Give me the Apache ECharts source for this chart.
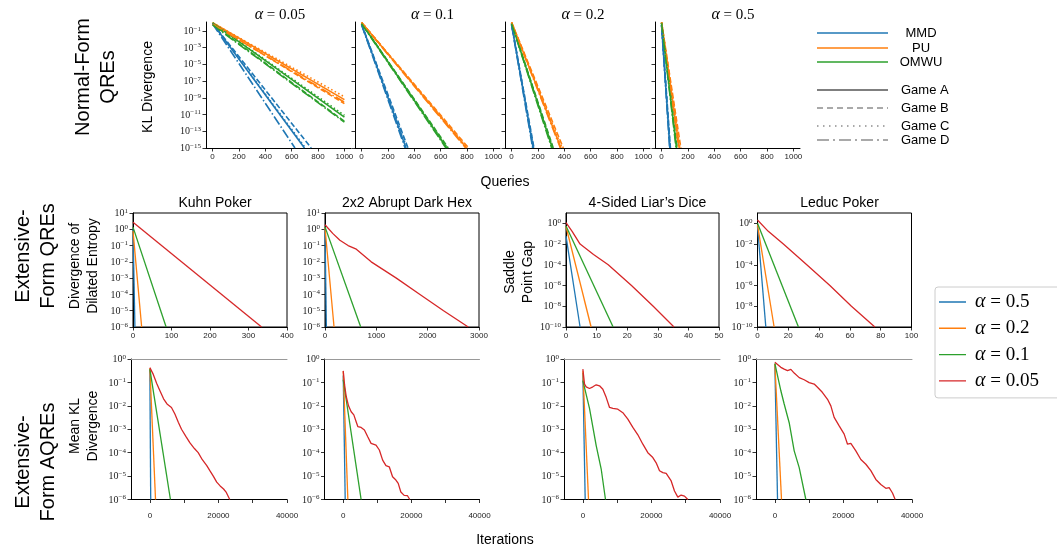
<!DOCTYPE html>
<html><head><meta charset="utf-8">
<script src="https://cdn.jsdelivr.net/npm/echarts@6/dist/echarts.min.js"></script>
<style>html,body{margin:0;padding:0;background:#fff}#chart{width:1057px;height:550px}</style>
</head><body><div id="chart"></div>
<script>
// ================= DATA =================
// --- Normal-form QREs (top row) ---
const alphaTitles = ['0.05', '0.1', '0.2', '0.5'];
const methodNames = ['MMD', 'PU', 'OMWU'];
const gameNames = ['Game A', 'Game B', 'Game C', 'Game D'];
const queryTicks = [0, 200, 400, 600, 800, 1000];
const nfExpTicks = [-15, -13, -11, -9, -7, -5, -3, -1];
// each array: [Game A, Game B, Game C, Game D]; line = [[queries, KL divergence], ...]
const nf005_MMD  = [[[0, 0.8], [697, 1e-15]], [[0, 0.8], [748, 1e-15]], [[0, 0.8], [705, 1e-15]], [[0, 0.7], [625, 1e-15]]];
const nf005_PU   = [[[0, 0.9], [1000, 6e-10]], [[0, 0.7], [1000, 2e-10]], [[0, 0.9], [1000, 1.3e-9]], [[0, 0.6], [1000, 3e-10]]];
const nf005_OMWU = [[[0, 0.9], [1000, 5e-12]], [[0, 0.6], [1000, 1.5e-12]], [[0, 0.9], [1000, 8e-12]], [[0, 0.5], [1000, 1.2e-12]]];
const nf01_MMD   = [[[0, 0.6], [337, 1e-15]], [[0, 0.6], [352, 1e-15]], [[0, 0.6], [344, 1e-15]], [[0, 0.5], [330, 1e-15]]];
const nf01_PU    = [[[0, 1.0], [797, 1e-15]], [[0, 1.0], [812, 1e-15]], [[0, 1.0], [803, 1e-15]], [[0, 0.9], [790, 1e-15]]];
const nf01_OMWU  = [[[0, 0.8], [646, 1e-15]], [[0, 0.8], [657, 1e-15]], [[0, 0.8], [651, 1e-15]], [[0, 0.7], [640, 1e-15]]];
const nf02_MMD   = [[[0, 0.6], [164, 1e-15]], [[0, 0.6], [170, 1e-15]], [[0, 0.6], [167, 1e-15]], [[0, 0.5], [160, 1e-15]]];
const nf02_PU    = [[[0, 1.0], [375, 1e-15]], [[0, 1.0], [392, 1e-15]], [[0, 1.0], [383, 1e-15]], [[0, 0.9], [370, 1e-15]]];
const nf02_OMWU  = [[[0, 0.8], [309, 1e-15]], [[0, 0.8], [316, 1e-15]], [[0, 0.8], [312, 1e-15]], [[0, 0.7], [304, 1e-15]]];
const nf05_MMD   = [[[0, 0.5], [63, 1e-15]], [[0, 0.5], [67, 1e-15]], [[0, 0.5], [65, 1e-15]], [[0, 0.4], [61, 1e-15]]];
const nf05_PU    = [[[0, 1.0], [134, 1e-15]], [[0, 1.0], [146, 1e-15]], [[0, 1.0], [140, 1e-15]], [[0, 0.9], [130, 1e-15]]];
const nf05_OMWU  = [[[0, 0.9], [113, 1e-15]], [[0, 0.9], [119, 1e-15]], [[0, 0.9], [116, 1e-15]], [[0, 0.8], [110, 1e-15]]];

// --- Extensive-form QREs (middle row); order: α=0.5, 0.2, 0.1, 0.05 ---
const alphaNames = ['α = 0.5', 'α = 0.2', 'α = 0.1', 'α = 0.05'];
const efTitles = ['Kuhn Poker', '2x2 Abrupt Dark Hex', '4-Sided Liar’s Dice', 'Leduc Poker'];
const kuhnQRE = [
  [[0, 1.0], [5, 1e-6]],
  [[0, 0.8], [22.5, 1e-6]],
  [[0, 1.35], [86, 1e-6]],
  [[0, 2.75], [334, 1e-6]]
];
const hexQRE = [
  [[0, 1.0], [27, 1e-6]],
  [[0, 1.2], [176, 1e-6]],
  [[0, 1.4], [696, 1e-6]],
  [[0, 1.9], [150, 0.56], [290, 0.21], [450, 0.1], [610, 0.06], [900, 0.01], [1390, 1e-3], [1850, 1e-4], [2310, 1e-5], [2790, 1e-6]]
];
const diceQRE = [
  [[0, 0.06], [4.6, 1e-10]],
  [[0, 0.5], [8.2, 1e-10]],
  [[0, 0.55], [15.4, 1e-10]],
  [[0, 1.15], [2, 0.17], [4.6, 0.01], [9, 1e-3], [13.8, 1e-4], [21.4, 1e-6], [28.5, 1e-8], [35.3, 1e-10]]
];
const leducQRE = [
  [[0, 0.5], [5.4, 1e-10]],
  [[0, 0.7], [10.8, 1e-10]],
  [[0, 1.0], [26.6, 1e-10]],
  [[0, 2.1], [7, 0.17], [16.8, 0.01], [32, 1e-4], [47, 1e-6], [61, 1e-8], [76.2, 1e-10]]
];

// --- Extensive-form AQREs (bottom row) ---
const kuhnAQRE = [
  [[0, 0.35], [250, 1e-6]],
  [[0, 0.4], [1650, 1e-6]],
  [[0, 0.37], [6000, 1e-6]],
  [[0, 0.43], [1000, 0.22], [2000, 0.09], [3000, 0.042], [4000, 0.02], [5000, 0.012], [6300, 0.0085], [7300, 0.0045], [8300, 0.002], [9230, 0.001], [10500, 5e-4], [11700, 2.6e-4], [13000, 1.5e-4], [14100, 1e-4], [15300, 5e-5], [16600, 2.8e-5], [17500, 1.7e-5], [18500, 1e-5], [19500, 5.5e-6], [20500, 3.8e-6], [21500, 2.8e-6], [22300, 2e-6], [23300, 1e-6]]
];
const hexAQRE = [
  [[0, 0.2], [580, 1e-6]],
  [[0, 0.3], [1360, 1e-6]],
  [[0, 0.13], [5250, 1e-6]],
  [[0, 0.31], [390, 0.078], [875, 0.025], [1550, 0.01], [2330, 0.0056], [3110, 0.0041], [3790, 0.0021], [4280, 0.0013], [5250, 0.0012], [6220, 9.3e-4], [7190, 4.8e-4], [8170, 2.5e-4], [9620, 2.1e-4], [10600, 1.3e-4], [11570, 4.8e-5], [12540, 2.8e-5], [13510, 2.5e-5], [14480, 9.3e-6], [15460, 6.8e-6], [16140, 4.9e-6], [16910, 2.1e-6], [17890, 1.5e-6], [18860, 1.45e-6], [19540, 1e-6]]
];
const diceAQRE = [
  [[0, 0.25], [680, 1e-6]],
  [[0, 0.3], [1650, 1e-6]],
  [[0, 0.12], [1940, 0.0078], [3890, 2e-4], [5350, 2e-5], [6600, 1e-6]],
  [[0, 0.37], [490, 0.085], [970, 0.065], [1940, 0.055], [2920, 0.065], [3890, 0.079], [4860, 0.072], [5830, 0.051], [6800, 0.023], [7780, 0.0085], [8750, 0.0078], [10200, 0.0072], [11660, 0.0051], [13120, 0.0027], [14580, 0.0012], [16040, 5.8e-4], [17500, 2.3e-4], [18950, 1e-4], [20410, 6.2e-5], [21380, 3.7e-5], [22360, 1.7e-5], [23330, 1.4e-5], [24300, 1.3e-5], [25760, 6.2e-6], [26730, 2.3e-6], [27700, 1.26e-6], [28670, 1.55e-6], [29650, 1.4e-6], [30620, 1e-6]]
];
const leducAQRE = [
  [[0, 0.6], [780, 1e-6]],
  [[0, 0.62], [1940, 1e-6]],
  [[0, 0.65], [1750, 0.044], [2720, 0.012], [4180, 0.0019], [5640, 1.2e-4], [7100, 2.3e-5], [9040, 1e-6]],
  [[0, 0.72], [780, 0.58], [1750, 0.44], [2720, 0.37], [3690, 0.32], [4670, 0.36], [5640, 0.25], [7100, 0.16], [8550, 0.13], [10010, 0.098], [11470, 0.085], [12440, 0.062], [13900, 0.037], [15360, 0.019], [16330, 0.01], [17300, 0.0032], [18760, 0.0014], [20220, 6.2e-4], [21190, 2.3e-4], [22160, 2.5e-4], [23620, 1.2e-4], [25080, 5.1e-5], [26540, 3.2e-5], [27990, 1.7e-5], [29450, 7.2e-6], [30910, 4.4e-6], [32370, 3e-6], [33340, 3.2e-6], [34310, 1.9e-6], [35090, 1e-6]]
];

// tick label values
const kuhnXLabels = [0, 100, 200, 300, 400];
const hexXLabels = [0, 1000, 2000, 3000];
const diceXLabels = [0, 10, 20, 30, 40, 50];
const leducXLabels = [0, 20, 40, 60, 80, 100];
const efYExp6 = [-6, -5, -4, -3, -2, -1, 0, 1];
const efYExp10 = [-10, -8, -6, -4, -2, 0];
const iterLabels = [0, 20000, 40000];
const iterTicks = [0, 10000, 20000, 30000, 40000];
const aqYExp = [-6, -5, -4, -3, -2, -1, 0];

// ================= STYLE / LAYOUT =================
const SANS = "'Liberation Sans', Arial, Helvetica, sans-serif";
const SERIF = "'Liberation Serif', 'Times New Roman', serif";
const methodColors = ['#1f77b4', '#ff7f0e', '#2ca02c'];
const alphaColors = ['#1f77b4', '#ff7f0e', '#2ca02c', '#d62728'];
const gameDash = ['solid', [5.5, 2.4], [1.5, 2.5], [9.6, 2.4, 1.5, 2.4]];

const grids = [
  {left: 206, top: 22, width: 145, height: 126},
  {left: 355, top: 22, width: 145, height: 126},
  {left: 505, top: 22, width: 145, height: 126},
  {left: 655, top: 22, width: 145, height: 126},
  {left: 133, top: 213, width: 154, height: 114},
  {left: 325, top: 213, width: 154, height: 114},
  {left: 566, top: 213, width: 153, height: 114},
  {left: 757.5, top: 213, width: 154, height: 114},
  {left: 131, top: 359, width: 156, height: 140.5},
  {left: 324.5, top: 359, width: 155, height: 140.5},
  {left: 564, top: 359, width: 156, height: 140.5},
  {left: 756, top: 359, width: 156, height: 140.5}
].map((g, i) => Object.assign({
  outerBoundsMode: 'none', containLabel: false,
  show: i >= 4 && i < 8, borderColor: '#000', borderWidth: 1, backgroundColor: 'transparent'
}, g));

const lg = v => Math.log10(v);
const toLog = pts => pts.map(p => [p[0], lg(p[1])]);
const expStr = v => (v < 0 ? '\u2212' + (-v) : String(v));

const richPow = {
  b: {fontFamily: SERIF, fontSize: 10, lineHeight: 11, verticalAlign: 'bottom', color: '#222'},
  e: {fontFamily: SERIF, fontSize: 7, lineHeight: 6, verticalAlign: 'top', color: '#222'}
};

function xAxis(gi, min, max, ticks, labels, margin) {
  return {
    type: 'value', gridIndex: gi, min: min, max: max, position: 'bottom',
    axisLine: {show: true, onZero: false, lineStyle: {color: '#000', width: 1}},
    axisTick: {show: true, length: 3.5, lineStyle: {color: '#000', width: 0.8}, customValues: ticks},
    axisLabel: {show: true, customValues: labels, margin: margin, fontSize: 8, fontFamily: SANS, color: '#222',
      formatter: v => String(v)},
    splitLine: {show: false}
  };
}
function yAxis(gi, min, max, ticks, showLabels) {
  return {
    type: 'value', gridIndex: gi, min: min, max: max,
    axisLine: {show: true, onZero: false, lineStyle: {color: '#000', width: 1}},
    axisTick: {show: true, length: 3.5, lineStyle: {color: '#000', width: 0.8}, customValues: ticks},
    axisLabel: {show: showLabels, customValues: ticks, margin: 5,
      formatter: v => '{b|10}{e|' + expStr(v) + '}', rich: richPow},
    splitLine: {show: false}
  };
}

const xAxes = [], yAxes = [], series = [];
// top row
const nfData = [
  [nf005_MMD, nf005_PU, nf005_OMWU],
  [nf01_MMD, nf01_PU, nf01_OMWU],
  [nf02_MMD, nf02_PU, nf02_OMWU],
  [nf05_MMD, nf05_PU, nf05_OMWU]
];
for (let p = 0; p < 4; p++) {
  xAxes.push(xAxis(p, -50, 1050, queryTicks, queryTicks, 5));
  yAxes.push(yAxis(p, -15, 0.05, nfExpTicks, p === 0));
  for (let g = 0; g < 4; g++) {
    for (let m = 0; m < 3; m++) {
      series.push({
        type: 'line', name: methodNames[m] + ' ' + gameNames[g] + ' (α=' + alphaTitles[p] + ')',
        xAxisIndex: p, yAxisIndex: p, data: toLog(nfData[p][m][g]),
        showSymbol: false, symbol: 'none', animation: false, silent: true,
        lineStyle: {color: methodColors[m], width: 1.6, type: gameDash[g]},
        itemStyle: {color: methodColors[m]}
      });
    }
  }
}
// middle row
const efData = [kuhnQRE, hexQRE, diceQRE, leducQRE];
const efX = [[0, 400, kuhnXLabels], [0, 3000, hexXLabels], [0, 50, diceXLabels], [0, 100, leducXLabels]];
for (let p = 0; p < 4; p++) {
  const gi = 4 + p;
  xAxes.push(xAxis(gi, efX[p][0], efX[p][1], efX[p][2], efX[p][2], 5));
  if (p < 2) yAxes.push(yAxis(gi, -6, 1, efYExp6, true));
  else yAxes.push(yAxis(gi, -10, 1, efYExp10, true));
  for (let a = 0; a < 4; a++) {
    series.push({
      type: 'line', name: alphaNames[a], xAxisIndex: gi, yAxisIndex: gi, data: toLog(efData[p][a]),
      showSymbol: false, symbol: 'none', animation: false, silent: true,
      lineStyle: {color: alphaColors[a], width: 1.3}, itemStyle: {color: alphaColors[a]}
    });
  }
}
// bottom row
const aqData = [kuhnAQRE, hexAQRE, diceAQRE, leducAQRE];
for (let p = 0; p < 4; p++) {
  const gi = 8 + p;
  xAxes.push(xAxis(gi, -5500, 40000, iterTicks, iterLabels, 12));
  yAxes.push(yAxis(gi, -6, 0, aqYExp, true));
  for (let a = 0; a < 4; a++) {
    series.push({
      type: 'line', name: alphaNames[a], xAxisIndex: xAxes.length - 1, yAxisIndex: gi, data: toLog(aqData[p][a]),
      showSymbol: false, symbol: 'none', animation: false, silent: true,
      lineStyle: {color: alphaColors[a], width: 1.3}, itemStyle: {color: alphaColors[a]}
    });
  }
}
// top spines (light) for the bottom row
for (let p = 0; p < 4; p++) {
  xAxes.push({type: 'value', gridIndex: 8 + p, min: -5500, max: 40000, position: 'top',
    axisLine: {show: true, onZero: false, lineStyle: {color: '#999', width: 1}},
    axisTick: {show: false}, axisLabel: {show: false}, splitLine: {show: false}});
}

// ================= TEXT =================
const titles = [];
const nfTitleX = [275, 427.5, 578, 728];
for (let p = 0; p < 4; p++) {
  titles.push({text: '{a|α}{n| = ' + alphaTitles[p] + '}', left: nfTitleX[p], top: 2, textAlign: 'center',
    textStyle: {fontWeight: 'normal',
      rich: {a: {fontFamily: SERIF, fontStyle: 'italic', fontWeight: 'normal', fontSize: 16, color: '#000'},
             n: {fontFamily: SERIF, fontWeight: 'normal', fontSize: 15, color: '#000'}}}});
}
const efTitleX = [210, 402, 642.5, 834.5];
for (let p = 0; p < 4; p++) {
  titles.push({text: efTitles[p], left: efTitleX[p], top: 191, textAlign: 'center',
    textStyle: {fontFamily: SANS, fontSize: 14, fontWeight: 'normal', color: '#000'}});
}

function rotText(x, y, text, size, lh) {
  return {type: 'text', x: x, y: y, rotation: Math.PI / 2, silent: true,
    style: {text: text, fontFamily: SANS, fontSize: size, lineHeight: lh, fill: '#000',
      align: 'center', verticalAlign: 'middle', textAlign: 'center', textVerticalAlign: 'middle'}};
}
function plainText(x, y, text, size, align) {
  return {type: 'text', x: x, y: y, silent: true,
    style: {text: text, fontFamily: SANS, fontSize: size, fill: '#000',
      align: align || 'center', verticalAlign: 'middle', textAlign: align || 'center', textVerticalAlign: 'middle'}};
}
function legLine(y, color, dash, w) {
  return {type: 'line', silent: true, shape: {x1: 817, y1: y, x2: 888, y2: y},
    style: {stroke: color, lineWidth: w, lineDash: dash}};
}
const graphics = [
  rotText(96, 77, 'Normal-Form\nQREs', 20, 25),
  rotText(36, 256, 'Extensive-\nForm QREs', 20, 25),
  rotText(36, 462, 'Extensive-\nForm AQREs', 20, 25),
  rotText(148, 87, 'KL Divergence', 14, 17),
  rotText(84, 266, 'Divergence of\nDilated Entropy', 14, 18),
  rotText(519, 272, 'Saddle\nPoint Gap', 14, 18),
  rotText(84, 426, 'Mean KL\nDivergence', 14, 18),
  plainText(505, 182, 'Queries', 14),
  plainText(505, 540, 'Iterations', 14),
  legLine(33, methodColors[0], null, 1.5),
  legLine(48, methodColors[1], null, 1.5),
  legLine(62, methodColors[2], null, 1.5),
  legLine(90, '#555', null, 1.5),
  legLine(108, '#555', [6, 4], 1.2),
  legLine(126, '#555', [1.5, 4.5], 1.2),
  legLine(140, '#555', [12, 4, 2, 4], 1.2),
  plainText(921, 33, methodNames[0], 13),
  plainText(921, 48, methodNames[1], 13),
  plainText(921, 62, methodNames[2], 13),
  plainText(901, 90, gameNames[0], 13, 'left'),
  plainText(901, 108, gameNames[1], 13, 'left'),
  plainText(901, 126, gameNames[2], 13, 'left'),
  plainText(901, 140, gameNames[3], 13, 'left')
];

const option = {
  animation: false,
  backgroundColor: '#fff',
  title: titles,
  grid: grids,
  xAxis: xAxes,
  yAxis: yAxes,
  series: series,
  graphic: graphics,
  legend: {
    data: alphaNames, orient: 'vertical', left: 935, top: 287, selectedMode: false,
    padding: [2, 30, 4, 4], itemGap: 0.3, itemWidth: 27, itemHeight: 26,
    icon: 'path://M0,0h0.01v0.01h-0.01z M0,12.3h27v1.4h-27z M26.99,25.99h0.01v0.01h-0.01z',
    borderColor: '#ccc', borderWidth: 1, borderRadius: 3, backgroundColor: '#fff',
    formatter: name => '{a|α}{n|' + name.slice(1) + '}',
    textStyle: {padding: [0, 0, 0, 4], lineHeight: 26,
      rich: {a: {fontFamily: SERIF, fontStyle: 'italic', fontSize: 20, lineHeight: 26, color: '#000'},
             n: {fontFamily: SERIF, fontSize: 19, lineHeight: 26, color: '#000'}}}
  }
};
const chart = echarts.init(document.getElementById('chart'), null, {renderer: 'canvas'});
chart.setOption(option);
</script></body></html>
